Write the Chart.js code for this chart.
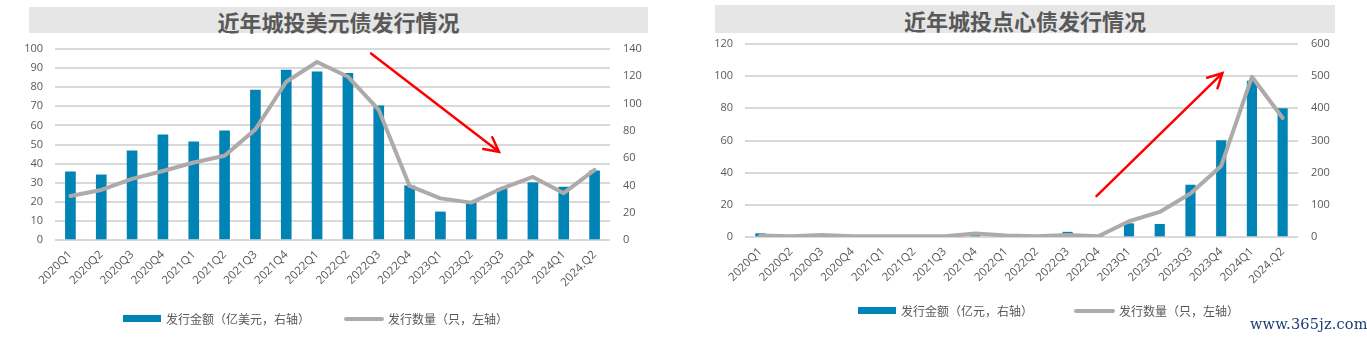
<!DOCTYPE html>
<html lang="zh">
<head>
<meta charset="UTF-8">
<title>近年城投美元债、点心债发行情况</title>
<script src="https://cdn.jsdelivr.net/npm/chart.js"></script>
<style>
  body { margin: 0; width: 1367px; height: 340px; position: relative; overflow: hidden; background: #fff;
         font-family: "Noto Sans CJK SC", sans-serif; color: #595959; }
  canvas { position: absolute; top: 0; }
  .title { position: absolute; background: #e6e6e6; font-weight: bold; font-size: 22px; text-align: center; color: #595959; }
  .leg { position: absolute; font-size: 12px; white-space: nowrap; line-height: 14px; }
  .swatch { position: absolute; }
  .mark { position: absolute; left: 1250px; top: 316px; font-family: "DejaVu Serif", serif; font-size: 14.5px; color: #1c3c74; letter-spacing: 0.2px; }
</style>
</head>
<body>
  <div class="title" style="left:29px;top:7px;width:619px;height:26px;line-height:28px;">近年城投美元债发行情况</div>
  <div class="title" style="left:715px;top:5px;width:620px;height:28px;line-height:30px;">近年城投点心债发行情况</div>

  <canvas id="usdChart" width="683" height="340" style="left:0"></canvas>
  <canvas id="dimChart" width="684" height="340" style="left:683px"></canvas>

  <div class="swatch" style="left:123px;top:315px;width:38px;height:7px;background:#0084b5"></div>
  <div class="leg" style="left:166px;top:312px">发行金额（亿美元，右轴）</div>
  <div class="swatch" style="left:344px;top:317px;width:40px;height:4px;border-radius:2px;background:#aeaaaa"></div>
  <div class="leg" style="left:388px;top:312px">发行数量（只，左轴）</div>

  <div class="swatch" style="left:858px;top:307px;width:38px;height:7px;background:#0084b5"></div>
  <div class="leg" style="left:901px;top:304px">发行金额（亿元，右轴）</div>
  <div class="swatch" style="left:1074px;top:309px;width:41px;height:4px;border-radius:2px;background:#aeaaaa"></div>
  <div class="leg" style="left:1119px;top:304px">发行数量（只，左轴）</div>

  <div class="mark">www.365jz.com</div>

<script>
const quarters = ['2020Q1','2020Q2','2020Q3','2020Q4','2021Q1','2021Q2','2021Q3','2021Q4',
                  '2022Q1','2022Q2','2022Q3','2022Q4','2023Q1','2023Q2','2023Q3','2023Q4','2024Q1','2024.Q2'];

// 美元债
const usdAmount = [35.7, 34.1, 46.7, 55.1, 51.4, 57.2, 78.5, 89.0, 88.0, 87.3, 70.2, 28.4, 14.7, 19.5, 27.0, 30.0, 27.7, 36.2];
const usdCount  = [32.3, 36.7, 44.8, 50.6, 56.8, 61.8, 81.1, 116, 130.5, 119.7, 95.3, 39.6, 30.5, 27.4, 37.9, 46.2, 34.3, 51.4];

// 点心债
const dimAmount = [2.1, 0, 0.5, 0, 0, 0, 0, 2.5, 0, 0, 3.0, 0, 8.3, 7.9, 32.3, 60.0, 97.0, 79.8];
const dimCount  = [5, 2, 6, 2, 2, 2, 2, 11, 5, 2, 6, 2, 49, 78, 135, 221, 498, 370];

// red trend arrows, in [category index, left-axis value]
const usdArrow = { from: [9.75, 97.7], to: [13.9, 46.2] };
const dimArrow = { from: [10.94, 25.4], to: [15.04, 101.9] };

const BLUE = '#0084b5';
const GRAY = '#aeaaaa';
const TEXT = '#595959';

const arrowPlugin = {
  id: 'arrow',
  afterDatasetsDraw(chart, args, o) {
    const { ctx, scales: { x, y } } = chart;
    const x0 = x.getPixelForValue(o.from[0]), y0 = y.getPixelForValue(o.from[1]);
    const x1 = x.getPixelForValue(o.to[0]), y1 = y.getPixelForValue(o.to[1]);
    const ang = Math.atan2(y1 - y0, x1 - x0);
    const head = 16, spread = Math.PI / 6.5;
    ctx.save();
    ctx.strokeStyle = '#ff0000';
    ctx.lineWidth = 2.5;
    ctx.lineCap = 'round';
    ctx.beginPath();
    ctx.moveTo(x0, y0);
    ctx.lineTo(x1, y1);
    ctx.moveTo(x1 - head * Math.cos(ang - spread), y1 - head * Math.sin(ang - spread));
    ctx.lineTo(x1, y1);
    ctx.lineTo(x1 - head * Math.cos(ang + spread), y1 - head * Math.sin(ang + spread));
    ctx.stroke();
    ctx.restore();
  }
};

function makeChart(id, o) {
  const tickFont = { family: 'Open Sans', size: 11 };
  return new Chart(document.getElementById(id), {
    data: {
      labels: quarters,
      datasets: [
        {
          type: 'line', label: o.lineLabel, data: o.lineData, yAxisID: 'y1',
          borderColor: GRAY, borderWidth: 4, pointRadius: 0, tension: 0,
          borderJoinStyle: 'round', borderCapStyle: 'round', order: 0
        },
        {
          type: 'bar', label: o.barLabel, data: o.barData, yAxisID: 'y',
          backgroundColor: BLUE, barThickness: o.barWidth, order: 1
        }
      ]
    },
    options: {
      responsive: false,
      animation: false,
      layout: { padding: { top: o.top, left: 0, right: 0, bottom: 0 } },
      plugins: { legend: { display: false }, tooltip: { enabled: false }, arrow: o.arrow },
      scales: {
        x: {
          grid: { display: false, drawTicks: false },
          border: { display: false },
          ticks: { color: TEXT, font: { family: 'Open Sans', size: 11.5 }, minRotation: 45, maxRotation: 45, autoSkip: false, padding: 8 },
          afterFit: s => { s.height = o.xHeight; }
        },
        y: {
          position: 'left', min: 0, max: o.yMax,
          ticks: { stepSize: o.yStep, color: TEXT, font: tickFont, padding: 12 },
          grid: { color: '#d9d9d9', lineWidth: 2, drawTicks: false },
          border: { display: false },
          afterFit: s => { s.width = o.yWidth; }
        },
        y1: {
          position: 'right', min: 0, max: o.y1Max,
          ticks: { stepSize: o.y1Step, color: TEXT, font: tickFont, padding: 13 },
          grid: { display: false, drawTicks: false },
          border: { display: false },
          afterFit: s => { s.width = o.y1Width; }
        }
      }
    },
    plugins: [arrowPlugin]
  });
}

makeChart('usdChart', {
  barLabel: '发行金额（亿美元，右轴）', lineLabel: '发行数量（只，左轴）',
  barData: usdAmount, lineData: usdCount, arrow: usdArrow,
  yMax: 100, yStep: 10, y1Max: 140, y1Step: 20,
  top: 49, xHeight: 100, yWidth: 55, y1Width: 73, barWidth: 10
});

makeChart('dimChart', {
  barLabel: '发行金额（亿元，右轴）', lineLabel: '发行数量（只，左轴）',
  barData: dimAmount, lineData: dimCount, arrow: dimArrow,
  yMax: 120, yStep: 20, y1Max: 600, y1Step: 100,
  top: 44, xHeight: 103, yWidth: 62, y1Width: 69, barWidth: 9.5
});
</script>
</body>
</html>
